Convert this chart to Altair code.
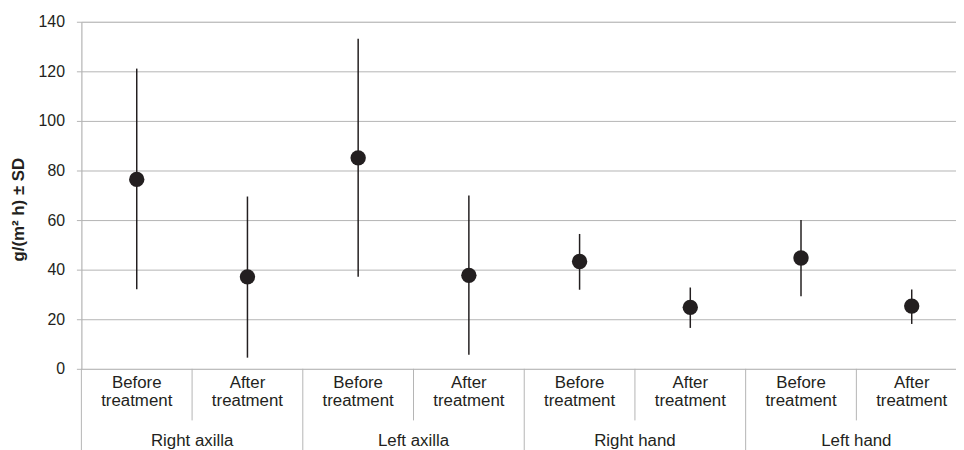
import altair as alt
import pandas as pd

groups = ["Right axilla", "Left axilla", "Right hand", "Left hand"]
phases = ["Before treatment", "After treatment"]
means = [76.4, 37.1, 85.1, 37.7, 43.3, 24.8, 44.7, 25.3]
sd_upper = [121.1, 69.5, 133.1, 69.9, 54.4, 32.8, 60.0, 32.0]
sd_lower = [32.1, 4.5, 37.1, 5.7, 31.9, 16.5, 29.3, 18.1]
y_ticks = [0, 20, 40, 60, 80, 100, 120, 140]

FONT = "Liberation Sans"
INK = "#231f20"
GRID = "#b4b4b4"

rows = []
for i, m in enumerate(means):
    rows.append({
        "pos": i + 0.5,
        "group": groups[i // 2],
        "phase": phases[i % 2],
        "mean": m,
        "lo": sd_lower[i],
        "hi": sd_upper[i],
    })
df = pd.DataFrame(rows)

grp_df = pd.DataFrame({"pos": [2 * k + 1 for k in range(len(groups))], "group": groups})
sub_sep = pd.DataFrame({"pos": [2 * k + 1 for k in range(len(groups))]})
grp_sep = pd.DataFrame({"pos": [2 * k for k in range(len(groups) + 1)]})

xscale = alt.Scale(domain=[0, 7.9], nice=False, zero=False)
X = lambda: alt.X("pos:Q", scale=xscale, axis=None)

yaxis = alt.Axis(
    values=y_ticks,
    grid=True,
    gridColor=GRID,
    gridWidth=1,
    domainColor=GRID,
    tickColor=GRID,
    tickSize=5,
    labelPadding=12,
    labelFont=FONT,
    labelFontSize=16,
    labelColor=INK,
    title="g/(m² h) ± SD",
    titleFont=FONT,
    titleFontSize=17,
    titleFontWeight="bold",
    titleColor=INK,
    titleAngle=270,
    titleBaseline="middle",
    titleAlign="center",
    titleX=-63,
    titleY=189,
)

base = alt.Chart(df)

bars = base.mark_rule(color=INK, strokeWidth=1.5).encode(
    x=X(),
    y=alt.Y("lo:Q", scale=alt.Scale(domain=[0, 140], nice=False), axis=yaxis),
    y2="hi:Q",
)

points = base.mark_circle(size=240, color=INK, opacity=1).encode(
    x=X(),
    y=alt.Y("mean:Q"),
)

phase_text = base.mark_text(
    font=FONT, fontSize=17, color=INK, lineBreak=" ", lineHeight=18,
    baseline="alphabetic", align="center",
).encode(x=X(), y=alt.value(369), text="phase:N")

group_text = alt.Chart(grp_df).mark_text(
    font=FONT, fontSize=17, color=INK, baseline="alphabetic", align="center",
).encode(x=X(), y=alt.value(428), text="group:N")

sub_rules = alt.Chart(sub_sep).mark_rule(color=GRID, strokeWidth=1).encode(
    x=X(), y=alt.value(350), y2=alt.value(402)
)
grp_rules = alt.Chart(grp_sep).mark_rule(color=GRID, strokeWidth=1).encode(
    x=X(), y=alt.value(350), y2=alt.value(432)
)

chart = alt.layer(
    sub_rules, grp_rules, bars, points, phase_text, group_text
).properties(
    width=882,
    height=350,
    autosize=alt.AutoSizeParams(type="none"),
    padding={"left": 74, "top": 12, "right": 0, "bottom": 80},
).configure_view(stroke=None).configure(background="white")

chart.save("out.html", embed_options={"renderer": "svg", "actions": False})
